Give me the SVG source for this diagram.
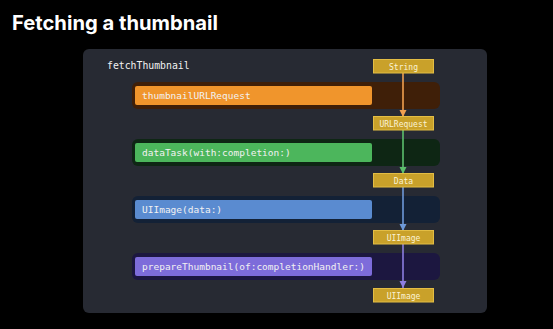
<svg xmlns="http://www.w3.org/2000/svg" width="553" height="329" viewBox="0 0 553 329">
<style>
.title{font-family:"Inter","Liberation Sans",sans-serif;font-weight:700;font-size:20.2px;fill:#fff}
.mono{font-family:"DejaVu Sans Mono","Liberation Mono",monospace;fill:#f2f2f2}
.fn{font-size:9.5px}
.ty{font-size:8px;fill:#fbf3d5;text-anchor:middle}
.tbox{fill:#c9a12a;stroke:#e3bd44;stroke-width:1}
.line{stroke-width:1.6;fill:none}
</style>
<defs>
<marker id="aO" viewBox="0 0 8 8" refX="8" refY="4" markerWidth="7" markerHeight="8" markerUnits="userSpaceOnUse" orient="auto"><path d="M0,0 L8,4 L0,8 Z" fill="#f0a050"/></marker>
<marker id="aG" viewBox="0 0 8 8" refX="8" refY="4" markerWidth="7" markerHeight="8" markerUnits="userSpaceOnUse" orient="auto"><path d="M0,0 L8,4 L0,8 Z" fill="#5cbf6c"/></marker>
<marker id="aB" viewBox="0 0 8 8" refX="8" refY="4" markerWidth="7" markerHeight="8" markerUnits="userSpaceOnUse" orient="auto"><path d="M0,0 L8,4 L0,8 Z" fill="#6e99d8"/></marker>
<marker id="aP" viewBox="0 0 8 8" refX="8" refY="4" markerWidth="7" markerHeight="8" markerUnits="userSpaceOnUse" orient="auto"><path d="M0,0 L8,4 L0,8 Z" fill="#8c7ee0"/></marker>
</defs>
<rect width="553" height="329" fill="#000"/>
<text class="title" x="12" y="30">Fetching a thumbnail</text>
<rect x="83" y="49" width="404" height="264" rx="6" fill="#272a33"/>
<text class="mono" x="107" y="69" font-size="9.8">fetchThumbnail</text>

<g id="thumbnailURLRequest">
<rect x="132" y="82" width="308" height="27" rx="6" fill="#3f1f08"/>
<rect x="135" y="86" width="237" height="19" rx="2" fill="#f0952c"/>
<text class="mono fn" x="142" y="99">thumbnailURLRequest</text>
</g>
<g id="dataTask">
<rect x="132" y="139" width="308" height="27" rx="6" fill="#0e2614"/>
<rect x="135" y="143" width="237" height="19" rx="2" fill="#4cb65c"/>
<text class="mono fn" x="142" y="156">dataTask(with:completion:)</text>
</g>
<g id="UIImageData">
<rect x="132" y="196" width="308" height="27" rx="6" fill="#132136"/>
<rect x="135" y="200" width="237" height="19" rx="2" fill="#5a8bd0"/>
<text class="mono fn" x="142" y="213">UIImage(data:)</text>
</g>
<g id="prepareThumbnail">
<rect x="132" y="253" width="308" height="27" rx="6" fill="#1c1740"/>
<rect x="135" y="257" width="237" height="19" rx="2" fill="#7d6cda"/>
<text class="mono fn" x="142" y="270">prepareThumbnail(of:completionHandler:)</text>
</g>

<g id="connectors">
<line class="line" x1="403" y1="73" x2="403" y2="117" stroke="#f0a050" marker-end="url(#aO)"/>
<line class="line" x1="403" y1="130" x2="403" y2="174" stroke="#5cbf6c" marker-end="url(#aG)"/>
<line class="line" x1="403" y1="187" x2="403" y2="231" stroke="#6e99d8" marker-end="url(#aB)"/>
<line class="line" x1="403" y1="244" x2="403" y2="288" stroke="#8c7ee0" marker-end="url(#aP)"/>
</g>

<g id="type-String"><rect class="tbox" x="373.5" y="59.5" width="60" height="13.5"/><text class="mono ty" x="403.5" y="69.5">String</text></g>
<g id="type-URLRequest"><rect class="tbox" x="373.5" y="116.5" width="60" height="13.5"/><text class="mono ty" x="403.5" y="126.5">URLRequest</text></g>
<g id="type-Data"><rect class="tbox" x="373.5" y="173.5" width="60" height="13.5"/><text class="mono ty" x="403.5" y="183.5">Data</text></g>
<g id="type-UIImage1"><rect class="tbox" x="373.5" y="230.5" width="60" height="13.5"/><text class="mono ty" x="403.5" y="240.5">UIImage</text></g>
<g id="type-UIImage2"><rect class="tbox" x="373.5" y="288.5" width="60" height="13.5"/><text class="mono ty" x="403.5" y="298.5">UIImage</text></g>
</svg>
